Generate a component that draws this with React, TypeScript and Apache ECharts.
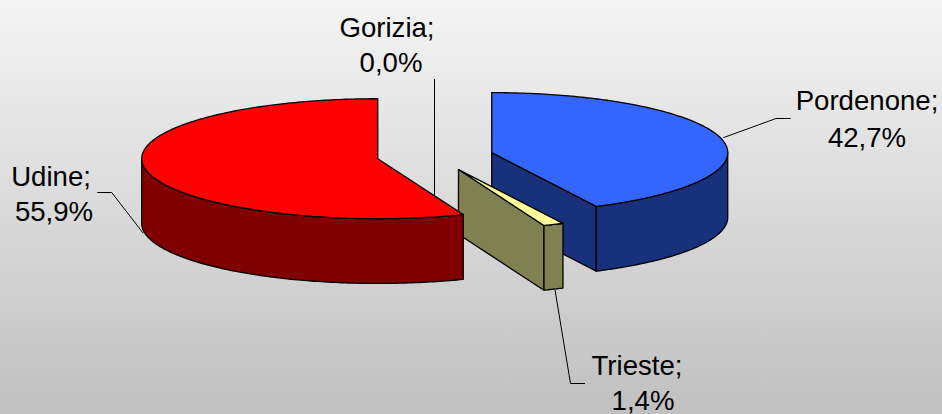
import React, { useEffect, useRef } from "react";
import * as echarts from "echarts";

const categories = ["Pordenone", "Trieste", "Gorizia", "Udine"];
const values = [42.7, 1.4, 0.0, 55.9];
const topColors = ["#3366FF", "#FFFF99", "#CCFFFF", "#FF0000"];
const sideColors = ["#17317D", "#808050", "#668080", "#800000"];

// Projection of the tilted pie
const CX = 435;
const CY = 156;
const RX = 236;
const RY = 60;
const DEPTH = 64.7;
const EXPLODE = 58.25;

const FONT = "'Liberation Sans', Arial, sans-serif";
const FONT_SIZE = 27.6;
const BASELINE_SHIFT = 4;

// Label placement: centre x and baseline of each line, then the leader line
const labelLayout = [
  { x1: 867, x2: 867, y1: 110, y2: 147, leader: [[790.7, 118.5], [776, 118.5], [723.3, 137.7]] },
  { x1: 637, x2: 643, y1: 375, y2: 410, leader: [[555, 290], [570.5, 383.5], [585, 383.5]] },
  { x1: 387, x2: 391, y1: 37, y2: 72, leader: [[434.5, 79], [434.5, 200]] },
  { x1: 51, x2: 54, y1: 186, y2: 221, leader: [[97.3, 192.5], [111.7, 192.5], [143.3, 233.3]] },
];

const total = values.reduce((a, b) => a + b, 0);
const toAngle = (v: number) => (v / total) * Math.PI * 2;

function renderSlice(params: any, api: any) {
  const i = params.dataIndex;
  const v = api.value(0);
  if (!(v > 0)) return { type: "group", children: [] };
  let start = 0;
  for (let k = 0; k < i; k++) start += toAngle(values[k]);
  const end = start + toAngle(v);
  const mid = (start + end) / 2;
  const ox = CX + EXPLODE * Math.sin(mid);
  const oy = CY - (EXPLODE * RY * Math.cos(mid)) / RX;
  const rim = (a: number, d = 0): number[] => [
    ox + RX * Math.sin(a),
    oy - RY * Math.cos(a) + d,
  ];
  const arc = (a: number, b: number, d = 0) => {
    const n = Math.max(2, Math.ceil(Math.abs(b - a) / 0.015));
    const pts: number[][] = [];
    for (let j = 0; j <= n; j++) pts.push(rim(a + ((b - a) * j) / n, d));
    return pts;
  };
  const base = { stroke: "#000000", lineWidth: 1.3, lineJoin: "round" };
  const side = { ...base, fill: sideColors[i] };
  const children: any[] = [];
  const face = (a: number) => ({
    type: "polygon",
    shape: { points: [[ox, oy], rim(a), rim(a, DEPTH), [ox, oy + DEPTH]] },
    style: side,
  });
  if (Math.sin(start) < -1e-6) children.push(face(start));
  if (Math.sin(end) > 1e-6) children.push(face(end));
  const wa = Math.max(start, Math.PI / 2);
  const wb = Math.min(end, (Math.PI * 3) / 2);
  if (wb > wa) {
    children.push({
      type: "polygon",
      shape: { points: [...arc(wa, wb), ...arc(wa, wb, DEPTH).reverse()] },
      style: side,
    });
  }
  children.push({
    type: "polygon",
    shape: { points: [[ox, oy], ...arc(start, end)] },
    style: { ...base, fill: topColors[i] },
  });
  return { type: "group", children };
}

const pct = (v: number) => `${v.toFixed(1).replace(".", ",")}%`;

const labelElements: any[] = categories.flatMap((name, i) => {
  const l = labelLayout[i];
  const textStyle = { font: `${FONT_SIZE}px ${FONT}`, fill: "#000000", textAlign: "center", textVerticalAlign: "bottom" };
  return [
    {
      type: "polyline",
      z: 0,
      silent: true,
      shape: { points: l.leader },
      style: { stroke: "#000000", lineWidth: 1, fill: "none" },
    },
    { type: "text", z: 10, silent: true, x: l.x1, y: l.y1 + BASELINE_SHIFT, style: { ...textStyle, text: `${name};` } },
    { type: "text", z: 10, silent: true, x: l.x2, y: l.y2 + BASELINE_SHIFT, style: { ...textStyle, text: pct(values[i]) } },
  ];
});

export default function App() {
  const ref = useRef<HTMLDivElement>(null);
  useEffect(() => {
    document.body.style.margin = "0";
    const chart = echarts.init(ref.current!, null, { renderer: "svg" });
    chart.setOption({
      animation: false,
      backgroundColor: {
        type: "linear",
        x: 0,
        y: 0,
        x2: 0,
        y2: 1,
        colorStops: [
          { offset: 0, color: "#F4F4F4" },
          { offset: 1, color: "#C0C0C0" },
        ],
      },
      series: [
        {
          type: "custom",
          coordinateSystem: "none",
          silent: true,
          z: 2,
          clip: false,
          data: categories.map((name, i) => ({ name, value: [values[i]] })),
          renderItem: renderSlice,
        },
      ],
      graphic: { elements: labelElements },
    });
    return () => chart.dispose();
  }, []);
  return <div ref={ref} style={{ width: 942, height: 414 }} />;
}
